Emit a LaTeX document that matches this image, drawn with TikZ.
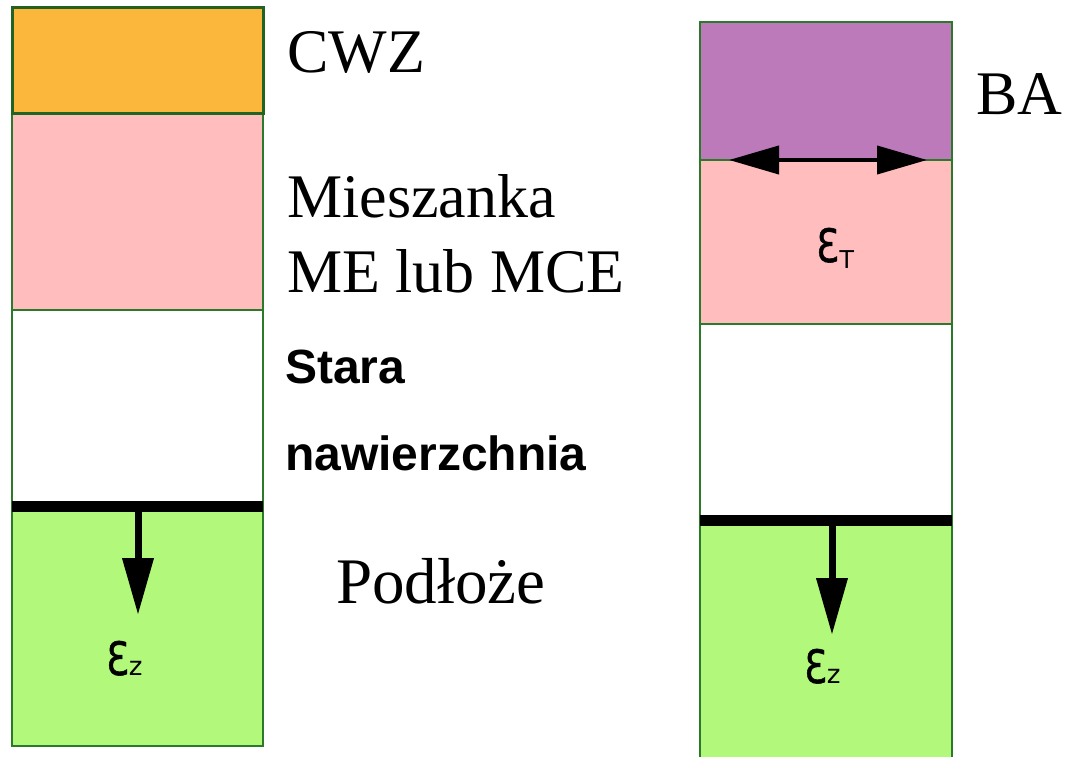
\documentclass[tikz,border=0pt]{standalone}
\usepackage{fontspec}
\setmainfont{Liberation Serif}
\newfontfamily\labelsans{Liberation Sans}
\newfontfamily\epsfont{DejaVu Sans}
\newfontfamily\epsheavy[FakeBold=1.2]{DejaVu Sans}
\usetikzlibrary{arrows.meta}

\definecolor{cwzorange}{HTML}{FBB63C}
\definecolor{mixpink}{HTML}{FFBDBD}
\definecolor{bapurple}{HTML}{BD7ABB}
\definecolor{soilgreen}{HTML}{B2F87A}
\definecolor{edgegreen}{HTML}{2A7A2A}

\newcommand{\openeps}{\scalebox{0.8}[1]{\epsheavy\fontsize{46}{46}\selectfont Ɛ}}

\tikzset{
  layer/.style={draw=edgegreen, line width=2pt, anchor=north west, inner sep=0pt, outer sep=0pt},
  serlabel/.style={anchor=base west, inner sep=0pt, align=left, font=\fontsize{62}{75}\selectfont},
  boldlabel/.style={anchor=base west, inner sep=0pt, align=left, font=\labelsans\bfseries\fontsize{48}{87}\selectfont},
  epslabel/.style={anchor=base west, inner sep=0pt, font=\epsfont},
  interface/.style={line width=11pt, draw=black},
  strainarrow/.style={line width=7pt, -{Triangle[length=57pt,width=30pt]}},
  shear/.style={line width=4pt, {Triangle[length=50pt,width=28pt]}-{Triangle[length=50pt,width=28pt]}}
}

\begin{document}
\begin{tikzpicture}[x=1pt,y=-1pt]
\useasboundingbox (0,0) rectangle (1068,757);
\clip (0,0) rectangle (1068,757);

% left structure: overlay on the old pavement
\node[layer, fill=soilgreen, minimum width=251pt, minimum height=240pt] (lsoil) at (12,506) {};
\node[layer, fill=white,     minimum width=251pt, minimum height=196pt] (lold)  at (12,310) {};
\node[layer, fill=mixpink,   minimum width=251pt, minimum height=196pt] (lmix)  at (12,114) {};
\node[layer, fill=cwzorange, draw=edgegreen!80!black, line width=3pt,
      minimum width=251pt, minimum height=106pt] (lcwz) at (12,8) {};
\draw[interface] (lold.south west) -- (lold.south east);
\coordinate (lz0) at (138,511);
\coordinate (lz1) at (138,615);
\draw[strainarrow] (lz0) -- (lz1);
\node[epslabel] (lepsz) at (106,675) {\openeps\fontsize{26}{26}\selectfont z};

% right structure: interlayer between new and old asphalt
\node[layer, fill=soilgreen, minimum width=252pt, minimum height=250pt] (rsoil) at (700,520) {};
\node[layer, fill=white,     minimum width=252pt, minimum height=196pt] (rold)  at (700,324) {};
\node[layer, fill=mixpink,   minimum width=252pt, minimum height=164pt] (rmix)  at (700,160) {};
\node[layer, fill=bapurple,  minimum width=252pt, minimum height=138pt] (rba)   at (700,22) {};
\draw[interface] (rold.south west) -- (rold.south east);
\coordinate (rz0) at (832,526);
\coordinate (rz1) at (832,635);
\draw[strainarrow] (rz0) -- (rz1);
\node[epslabel] (repsz) at (804,683) {\openeps\fontsize{26}{26}\selectfont z};
\coordinate (rt0) at (729,160);
\coordinate (rt1) at (927,160);
\draw[shear] (rt0) -- (rt1);
\node[epslabel] (repst) at (816,262) {\openeps\raisebox{-6pt}{\labelsans\fontsize{26}{26}\selectfont T}};

% layer names (base anchor sits on the last line)
\node[serlabel] (tcwz) at (287,73) {CWZ};
\node[serlabel] (tmix) at (287,292) {Mieszanka\\ME lub MCE};
\node[boldlabel] (told) at (285,470) {Stara\\nawierzchnia};
\node[serlabel, font=\fontsize{65}{65}\selectfont] (tsoil) at (336,603) {Podłoże};
\node[serlabel] (tba) at (976,115) {BA};
\end{tikzpicture}
\end{document}
